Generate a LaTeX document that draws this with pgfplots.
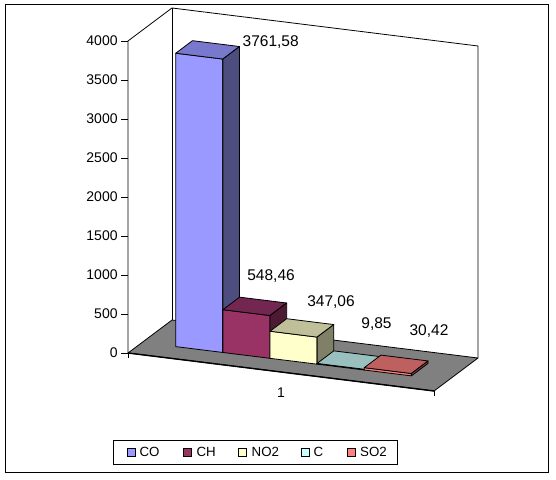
\documentclass[border=0pt]{standalone}
\usepackage{fontspec}
\setmainfont{Liberation Sans}
\usepackage{pgfplots}
\pgfplotsset{compat=1.18}

% series colours: front face, top face, side face
\definecolor{coF}{HTML}{9999FF}\definecolor{coT}{HTML}{7878CC}\definecolor{coS}{HTML}{4D4D80}
\definecolor{chF}{HTML}{993366}\definecolor{chT}{HTML}{732650}\definecolor{chS}{HTML}{4D1A33}
\definecolor{noF}{HTML}{FFFFCC}\definecolor{noT}{HTML}{BFBF99}\definecolor{noS}{HTML}{808066}
\definecolor{cF}{HTML}{CCFFFF}\definecolor{cT}{HTML}{99BFBF}\definecolor{cS}{HTML}{668080}
\definecolor{soF}{HTML}{FF8080}\definecolor{soT}{HTML}{BF6060}\definecolor{soS}{HTML}{804040}
\definecolor{floorgray}{HTML}{808080}

% one 3D column: #1 left x, #2 right x, #3 value, #4 front, #5 top, #6 side colour
\newcommand{\cuboid}[6]{%
  \addplot3[draw=black, fill=#4, line width=0.8pt, line join=round]
    coordinates {(#1,0.32,0) (#2,0.32,0) (#2,0.32,#3) (#1,0.32,#3)} --cycle;
  \addplot3[draw=black, fill=#5, line width=0.8pt, line join=round]
    coordinates {(#1,0.32,#3) (#2,0.32,#3) (#2,0.70,#3) (#1,0.70,#3)} --cycle;
  \addplot3[draw=black, fill=#6, line width=0.8pt, line join=round]
    coordinates {(#2,0.32,0) (#2,0.70,0) (#2,0.70,#3) (#2,0.32,#3)} --cycle;
}

\begin{document}
\begin{tikzpicture}
\path[use as bounding box] (0pt,0pt) rectangle (556pt,479pt);
\draw[line width=1pt] (5pt,7pt) rectangle (548pt,474pt);

\begin{axis}[
  x={(306pt,-38pt)}, y={(44pt,33pt)}, z={(0pt,0.078pt)},
  xmin=0, xmax=1, ymin=0, ymax=1, zmin=0, zmax=4000,
  hide axis, clip=false,
  anchor=origin, at={(128pt,126pt)},
]
% walls
\draw[line width=0.8pt] (axis cs:0,0,0) -- (axis cs:0,0,4000) -- (axis cs:0,1,4000)
   -- (axis cs:1,1,4000) -- (axis cs:1,1,0);
\draw[line width=0.8pt] (axis cs:0,1,4000) -- (axis cs:0,1,0);
% floor
\addplot3[draw=black, fill=floorgray, line width=0.8pt, line join=round]
  coordinates {(0,0,0) (1,0,0) (1,1,0) (0,1,0)} --cycle;
\draw[line width=1.4pt] (axis cs:0,0,0) -- (axis cs:1,0,0);
\draw[line width=0.8pt] (axis cs:0,0,0) -- ++(0pt,-5pt);
\draw[line width=0.8pt] (axis cs:1,0,0) -- ++(0pt,-5pt);

% columns
\cuboid{0.110}{0.264}{3761.58}{coF}{coT}{coS}
\cuboid{0.264}{0.418}{548.46}{chF}{chT}{chS}
\cuboid{0.418}{0.572}{347.06}{noF}{noT}{noS}
\cuboid{0.572}{0.726}{9.85}{cF}{cT}{cS}
\cuboid{0.726}{0.880}{30.42}{soF}{soT}{soS}

% value axis
\pgfplotsinvokeforeach{0,500,...,4000}{%
  \draw[line width=0.8pt] (axis cs:0,0,#1) -- ++(-7pt,0pt)
    node[left, inner sep=0pt, xshift=-3pt, font=\fontsize{14}{16}\selectfont] {#1};
}
\node[font=\fontsize{14}{16}\selectfont, yshift=-21pt] at (axis cs:0.5,0,0) {1};

% data labels
\begin{scope}[every node/.style={inner sep=0pt, font=\fontsize{15.5}{18}\selectfont}]
\node[xshift=63.5pt, yshift=7.7pt]  at (axis cs:0.187,0.5,3761.58) {3761,58};
\node[xshift=16.7pt, yshift=30.2pt] at (axis cs:0.341,0.5,548.46) {548,46};
\node[xshift=29.5pt, yshift=25.7pt] at (axis cs:0.495,0.5,347.06) {347,06};
\node[xshift=27.9pt, yshift=36.4pt] at (axis cs:0.649,0.5,9.85) {9,85};
\node[xshift=33.3pt, yshift=33.6pt] at (axis cs:0.803,0.5,30.42) {30,42};
\end{scope}
\end{axis}

% legend
\draw[line width=1pt] (113.3pt,14.7pt) rectangle (397.7pt,39pt);
\begin{scope}[every node/.style={anchor=west, inner sep=0pt, font=\fontsize{13.3}{15}\selectfont}]
\draw[fill=coF, line width=0.7pt] (127pt,22.5pt) rectangle ++(8.3pt,8.3pt);
\node at (139.3pt,26.7pt) {CO};
\draw[fill=chF, line width=0.7pt] (183.5pt,22.5pt) rectangle ++(8.3pt,8.3pt);
\node at (196.3pt,26.7pt) {CH};
\draw[fill=noF, line width=0.7pt] (238.5pt,22.5pt) rectangle ++(8.3pt,8.3pt);
\node at (251.5pt,26.7pt) {NO2};
\draw[fill=cF, line width=0.7pt] (301.5pt,22.5pt) rectangle ++(8.3pt,8.3pt);
\node at (313.3pt,26.7pt) {C};
\draw[fill=soF, line width=0.7pt] (347.5pt,22.5pt) rectangle ++(8.3pt,8.3pt);
\node at (360pt,26.7pt) {SO2};
\end{scope}
\end{tikzpicture}
\end{document}
